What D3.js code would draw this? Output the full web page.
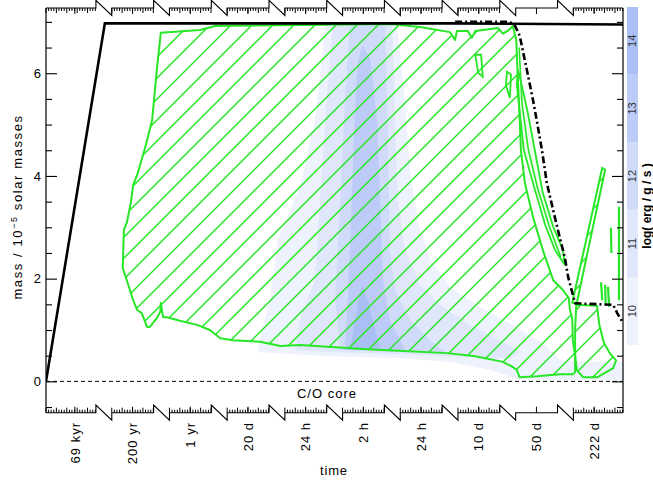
<!DOCTYPE html>
<html><head><meta charset="utf-8">
<script src="https://cdn.jsdelivr.net/npm/d3@7"></script>
<style>
body{margin:0;background:#fff}
svg{display:block}
text{font-family:"Liberation Sans",Arial,sans-serif}
</style>
</head><body>
<svg id="chart" width="653" height="482"></svg>
<script>
// ---------- data ----------
// x is the position along the broken time axis (one unit per axis segment)
const timeLabels = ["69 kyr","200 yr","1 yr","20 d","24 h","2 h","24 h","10 d","50 d","222 d"];
const massTicks = [0,2,4,6];
const massMinorTicks = [-0.5,0.5,1,1.5,2.5,3,3.5,4.5,5,5.5,6.5,7];
const logLevels = [10,11,12,13,14];
const levelColors = ["#eef2fd","#e0e7fb","#cfdbf9","#bccbf7","#aabff5"];

const totalMass = [[0,0],[1.02,6.97],[7.0,6.97],[10,6.95]];
const coreBoundary = [[7.09,7.00],[8.04,7.00],[8.13,6.92],[8.21,6.73],[8.34,6.03],[8.44,5.48],
  [8.51,5.05],[8.60,4.47],[8.68,3.86],[8.86,3.00],[8.99,2.42],[9.05,2.03],[9.17,1.52],
  [9.83,1.49],[9.90,1.33],[10,1.14]];

const convMain = [[1.99,6.79],[2.67,6.84],[2.93,6.92],[5.96,6.96],[6.48,6.90],[7.00,6.80],
  [7.09,6.65],[7.12,6.82],[7.31,6.82],[7.38,6.69],[7.44,6.82],[7.83,6.88],[7.92,6.77],
  [8.02,6.84],[8.09,6.92],[8.15,6.65],[8.18,5.83],[8.21,5.09],[8.23,4.51],[8.30,3.86],
  [8.44,3.20],[8.61,2.56],[8.79,1.97],[8.96,1.78],[9.06,1.62],[9.08,1.39],[9.12,1.23],
  [9.13,0.80],[9.17,0.51],[9.17,0.18],[9.13,0.14],[8.91,0.14],[8.51,0.10],[8.21,0.08],
  [8.16,0.22],[8.09,0.28],[7.92,0.38],[7.44,0.49],[6.95,0.55],[6.19,0.59],[5.49,0.63],
  [4.40,0.71],[4.06,0.69],[3.71,0.77],[3.24,0.80],[3.02,0.84],[2.84,1.00],[2.62,1.10],
  [2.32,1.18],[2.10,1.25],[2.03,1.25],[1.99,1.53],[1.98,1.35],[1.92,1.23],[1.80,1.06],
  [1.75,1.06],[1.66,1.33],[1.58,1.39],[1.51,1.58],[1.40,1.97],[1.33,2.21],[1.35,2.95],
  [1.40,3.09],[1.47,3.47],[1.51,3.82],[1.58,4.02],[1.72,4.56],[1.84,5.09],[1.92,6.06]];
const convRight = [[9.19,1.49],[9.55,1.47],[9.59,1.10],[9.67,0.75],[9.77,0.55],[9.88,0.41],
  [9.83,0.26],[9.55,0.08],[9.31,0.08],[9.20,0.22],[9.17,0.51],[9.17,1.00]];
const convWedge = [[9.12,1.53],[9.64,4.16],[9.69,4.12],[9.20,1.53]];
const convStrip = [[8.16,5.77],[8.28,4.51],[8.44,3.86],[8.65,3.05],[8.82,2.56],[8.99,2.27],
  [8.96,2.56],[8.79,3.01],[8.61,3.67],[8.47,4.51],[8.34,5.29],[8.21,5.93],[8.18,6.06]];
const convStripInner = [[8.20,6.50],[8.25,5.40],[8.36,4.51],[8.52,3.76],[8.72,3.03],[8.92,2.42]];
const convHoles = [
  [[7.44,6.36],[7.54,6.36],[7.57,5.93],[7.49,6.01]],
  [[7.99,6.03],[8.06,5.97],[8.04,5.52],[7.97,5.77]]];
const convSpikes = [
  [[9.93,3.40],[9.93,1.58]],
  [[9.79,2.99],[9.80,2.50]],
  [[9.62,1.93],[9.64,1.58]],
  [[9.69,1.88],[9.70,1.49]],
  [[9.74,1.84],[9.76,1.45]]];

// energy-generation contours, log(erg/g/s) levels 10..14
const eps10 = [[4.84,6.97],[6.08,6.97],[6.22,5.48],[6.31,4.12],[6.43,3.14],[6.66,2.37],[7.00,1.84],
  [7.52,1.45],[8.16,1.06],[8.65,0.71],[8.91,0.41],[9.60,0.38],[10,0.38],[10,0.03],[8.91,0.03],
  [8.21,0.04],[7.70,0.22],[7.00,0.38],[6.14,0.45],[4.92,0.49],[3.67,0.57],[3.74,1.00],
  [3.88,1.58],[4.02,2.75],[4.40,3.79],[4.66,5.09],[4.78,6.26]];
const eps11 = [[4.97,6.97],[6.00,6.97],[6.05,5.09],[6.10,3.53],[6.22,2.56],[6.48,1.88],[6.83,1.49],
  [7.35,1.10],[7.87,0.80],[8.21,0.57],[8.04,0.45],[7.00,0.49],[6.14,0.53],[4.92,0.57],
  [4.32,0.61],[4.40,1.19],[4.66,1.97],[4.75,3.53],[4.84,5.09],[4.92,6.26]];
const eps12 = [[5.27,6.97],[5.88,6.97],[5.93,4.51],[5.96,2.56],[6.05,1.78],[6.31,1.19],[6.66,0.80],
  [6.92,0.57],[6.14,0.57],[5.10,0.61],[5.01,1.58],[5.10,3.53],[5.18,5.48]];
const eps13 = [[5.49,6.55],[5.62,6.26],[5.74,5.09],[5.79,3.53],[5.84,1.97],[5.96,1.19],[6.14,0.80],
  [6.22,0.61],[5.18,0.61],[5.23,1.58],[5.30,3.53],[5.36,5.48],[5.41,6.26]];
const eps14 = [[5.48,1.88],[5.58,1.58],[5.70,1.00],[5.79,0.65],[5.27,0.65],[5.36,1.19],[5.41,1.58]];
const epsContours = [eps10, eps11, eps12, eps13, eps14];

// ---------- drawing ----------
const svg = d3.select("#chart");
const L = 46, R = 623, T = 8, B = 412.7;
const x = d3.scaleLinear().domain([0,10]).range([L,R]);
const y = d3.scaleLinear().domain([-0.61,7.27]).range([B,T]);
const green = "#26e626";

const defs = svg.append("defs");
defs.append("clipPath").attr("id","clip").append("rect")
  .attr("x",L).attr("y",T).attr("width",R-L).attr("height",B-T);
const pat = defs.append("pattern").attr("id","hatch").attr("patternUnits","userSpaceOnUse")
  .attr("width",21).attr("height",21).attr("x",4).attr("y",0);
pat.append("path").attr("d","M-2,2L2,-2M0,21L21,0M19,23L23,19")
  .attr("stroke",green).attr("stroke-width",1.5);

const g = svg.append("g").attr("clip-path","url(#clip)");
const lineC = d3.line().x(d=>x(d[0])).y(d=>y(d[1])).curve(d3.curveLinearClosed);
const lineO = d3.line().x(d=>x(d[0])).y(d=>y(d[1]));

// energy contours
epsContours.forEach((c,i)=>{
  g.append("path").attr("d",lineC(c)).attr("fill",levelColors[i]).attr("stroke","none");
});

// convective zones
[convMain, convRight, convWedge].forEach(c=>{
  g.append("path").attr("d",lineC(c)).attr("fill","url(#hatch)")
    .attr("stroke",green).attr("stroke-width",2).attr("stroke-linejoin","round");
});
g.append("path").attr("d",lineC(convStrip)).attr("fill",green).attr("fill-opacity",0.08)
  .attr("stroke",green).attr("stroke-width",1.8);
g.append("path").attr("d",lineO(convStripInner)).attr("fill","none")
  .attr("stroke",green).attr("stroke-width",1.6);
convHoles.forEach(c=>{
  g.append("path").attr("d",lineC(c)).attr("fill","none")
    .attr("stroke",green).attr("stroke-width",1.8);
});
convSpikes.forEach(c=>{
  g.append("path").attr("d",lineO(c)).attr("fill","none")
    .attr("stroke",green).attr("stroke-width",2.2);
});

// C/O core line
g.append("path").attr("d",lineO([[0,0],[10,0]])).attr("stroke","#000")
  .attr("stroke-width",1).attr("stroke-dasharray","4,3");

// total mass and core boundary
g.append("path").attr("d",lineO(totalMass)).attr("fill","none")
  .attr("stroke","#000").attr("stroke-width",2.6);
g.append("path").attr("d",lineO(coreBoundary)).attr("fill","none")
  .attr("stroke","#000").attr("stroke-width",2.6).attr("stroke-dasharray","7,3,2,3");

// frame sides
svg.append("line").attr("x1",L).attr("x2",L).attr("y1",T).attr("y2",B).attr("stroke","#000").attr("stroke-width",1.2);
svg.append("line").attr("x1",R).attr("x2",R).attr("y1",T).attr("y2",B).attr("stroke","#000").attr("stroke-width",1.2);

// y axes
const yl = svg.append("g").attr("transform",`translate(${L},0)`)
  .call(d3.axisLeft(y).tickValues(massTicks).tickSize(-11).tickPadding(5).tickFormat(d3.format("d")));
const ylm = svg.append("g").attr("transform",`translate(${L},0)`)
  .call(d3.axisLeft(y).tickValues(massMinorTicks).tickSize(-6).tickFormat(""));
const yr = svg.append("g").attr("transform",`translate(${R},0)`)
  .call(d3.axisRight(y).tickValues(massTicks).tickSize(-11).tickFormat(""));
const yrm = svg.append("g").attr("transform",`translate(${R},0)`)
  .call(d3.axisRight(y).tickValues(massMinorTicks).tickSize(-6).tickFormat(""));
[yl,ylm,yr,yrm].forEach(a=>{ a.select(".domain").remove(); a.selectAll("line").attr("stroke","#000").attr("stroke-width",1.1); });
yl.selectAll("text").attr("font-size",13).attr("fill","#000").style("font-family","Liberation Sans");

// broken time axes (bottom and top)
const segs = d3.range(10).map(k=>[k===0?0:k+0.14, k===9?10:k+0.865]);
function brokenPath(by){
  let p = `M${x(0)},${by}`;
  segs.forEach((s,k)=>{
    p += `L${x(s[1])},${by}`;
    if(k<9){ const n = segs[k+1][0]; p += `L${x(s[1])},${by-7.7}L${x(n)},${by+7.5}L${x(n)},${by}`; }
  });
  return p;
}
function ticksFor(k){
  if(k===8) return [{v:8.5,len:6}];
  const s = segs[k];
  return d3.range(s[0], s[1]+1e-6, 0.045).map((v,i)=>({v, len: i%4===0?5:3}))
    .concat([{v:k+0.5,len:6}]);
}
[[B,-1],[T,1]].forEach(([by,dir])=>{
  svg.append("path").attr("d",brokenPath(by)).attr("fill","none").attr("stroke","#000").attr("stroke-width",1.1);
  segs.forEach((s,k)=>{
    svg.append("g").selectAll("line").data(ticksFor(k)).join("line")
      .attr("x1",d=>x(d.v)).attr("x2",d=>x(d.v))
      .attr("y1",by).attr("y2",d=>by+dir*d.len)
      .attr("stroke","#000").attr("stroke-width",1);
  });
});

// time labels
svg.append("g").selectAll("text").data(timeLabels).join("text")
  .attr("transform",(d,i)=>`translate(${x(i+0.5)},422) rotate(-90)`)
  .attr("text-anchor","end").attr("dy","0.36em")
  .attr("font-size",13).attr("letter-spacing",1).text(d=>d);

svg.append("text").attr("x",334).attr("y",475).attr("text-anchor","middle")
  .attr("font-size",13).attr("letter-spacing",0.8).text("time");
svg.append("text").attr("x",327).attr("y",398).attr("text-anchor","middle")
  .attr("font-size",13).attr("letter-spacing",1).text("C/O core");

// y title
const yt = svg.append("text").attr("transform","translate(22,207) rotate(-90)")
  .attr("text-anchor","middle").attr("font-size",13).attr("letter-spacing",1.6);
yt.append("tspan").text("mass / 10");
yt.append("tspan").attr("dy",-5).attr("font-size",9).text("−5");
yt.append("tspan").attr("dy",5).text(" solar masses");

// colour bar
const cb = d3.scaleLinear().domain([9.5,14.5]).range([345,7]);
const cbg = svg.append("g");
cbg.selectAll("rect").data(logLevels).join("rect")
  .attr("x",627).attr("width",11)
  .attr("y",d=>cb(d+0.5)).attr("height",d=>cb(d-0.5)-cb(d+0.5))
  .attr("fill",(d,i)=>levelColors[i]);
cbg.selectAll("text").data(logLevels).join("text")
  .attr("transform",d=>`translate(632.5,${cb(d)}) rotate(-90)`)
  .attr("text-anchor","middle").attr("dy","0.36em").attr("font-size",11).attr("fill","#333")
  .text(d=>d);
svg.append("text").attr("transform","translate(651,206) rotate(-90)")
  .attr("text-anchor","middle").attr("font-size",12).attr("font-weight","bold")
  .text("log( erg / g / s )");
</script>
</body></html>
